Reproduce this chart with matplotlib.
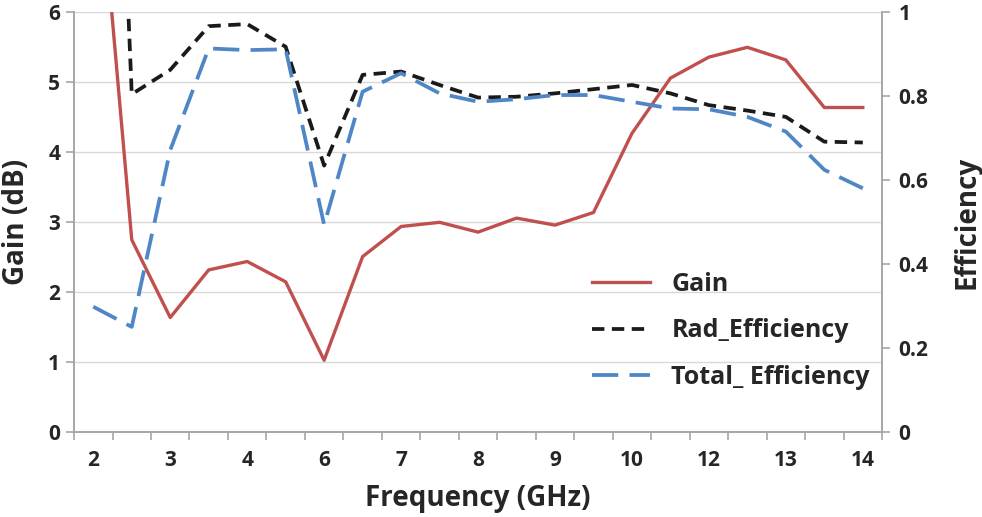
import matplotlib
matplotlib.use("Agg")
import matplotlib.pyplot as plt

plt.rcParams["font.family"] = ["Open Sans", "DejaVu Sans"]
plt.rcParams["font.weight"] = "bold"

# ---- data (category axis, every other label shown) ----
freq_labels = ["2", "", "3", "", "4", "", "6", "", "7", "", "8", "",
               "9", "", "10", "", "12", "", "13", "", "14"]
gain = [9.0, 2.75, 1.64, 2.32, 2.44, 2.15, 1.03, 2.51, 2.94, 3.0, 2.86,
        3.06, 2.96, 3.14, 4.27, 5.06, 5.36, 5.5, 5.32, 4.64, 4.64]
rad_eff = [3.0, 0.805, 0.863, 0.967, 0.972, 0.918, 0.635, 0.851, 0.859, 0.827,
           0.797, 0.799, 0.807, 0.817, 0.827, 0.807, 0.779, 0.766, 0.751,
           0.692, 0.690]
total_eff = [0.299, 0.251, 0.672, 0.914, 0.91, 0.912, 0.494, 0.811, 0.855,
             0.807, 0.787, 0.793, 0.803, 0.803, 0.787, 0.771, 0.769, 0.751,
             0.716, 0.625, 0.581]

x = list(range(len(freq_labels)))
txt = "#262626"
axc = "#A6A6A6"

fig = plt.figure(figsize=(9.82, 5.17), dpi=100)
ax = fig.add_axes([0.0754, 0.1638, 0.8228, 0.8124])
ax2 = ax.twinx()

# gridlines
for v in range(0, 7):
    ax.axhline(v, color="#D9D9D9", lw=1, zorder=0)

l1, = ax.plot(x, gain, color="#C0504D", lw=2.4, label="Gain", zorder=3)
l2, = ax2.plot(x, rad_eff, color="#1A1A1A", lw=2.7, dashes=(3.3, 2.0),
               label="Rad_Efficiency")
l3, = ax2.plot(x, total_eff, color="#4F86C6", lw=2.7, dashes=(7, 3),
               label="Total_ Efficiency")

ax.set_xlim(-0.5, len(x) - 0.5)
ax.set_ylim(0, 6)
ax2.set_ylim(0, 1)

ax.set_xticks(x[::2])
ax.set_xticklabels(freq_labels[::2])
ax.set_xticks([i - 0.5 for i in range(len(x) + 1)], minor=True)
ax.tick_params(axis="x", which="major", length=0, pad=13, labelsize=15,
               labelcolor=txt)
ax.tick_params(axis="x", which="minor", length=6, color=axc, width=1.2)
ax.set_yticks(range(0, 7))
ax.tick_params(axis="y", length=6, color=axc, width=1.2, labelsize=15,
               labelcolor=txt, pad=4)
ax2.set_yticks([0, 0.2, 0.4, 0.6, 0.8, 1.0])
ax2.set_yticklabels(["0", "0.2", "0.4", "0.6", "0.8", "1"])
ax2.tick_params(axis="y", length=6, color=axc, width=1.2, labelsize=15,
                labelcolor=txt, pad=6)

for a in (ax, ax2):
    a.spines["top"].set_visible(False)
    for s in ("left", "right", "bottom"):
        a.spines[s].set_color(axc)
        a.spines[s].set_linewidth(1.2)

for t in ax.get_xticklabels() + ax.get_yticklabels() + ax2.get_yticklabels():
    t.set_fontweight("bold")

ax.set_xlabel("Frequency (GHz)", fontsize=20, color=txt, labelpad=9,
              fontweight="bold")
ax.set_ylabel("Gain (dB)", fontsize=20, color=txt, labelpad=12,
              fontweight="bold")
ax2.set_ylabel("Efficiency", fontsize=20, color=txt, labelpad=17,
               fontweight="bold")

leg = ax2.legend(handles=[l1, l2, l3], loc="center left",
                 bbox_to_anchor=(0.603, 0.360), bbox_transform=fig.transFigure,
                 frameon=False, handlelength=2.33, handletextpad=0.84,
                 labelspacing=0.85, borderpad=0, borderaxespad=0,
                 prop={"family": ["Open Sans", "DejaVu Sans"],
                       "weight": "bold", "size": 18})
for t in leg.get_texts():
    t.set_color(txt)

fig.savefig("out.png", dpi=100)
